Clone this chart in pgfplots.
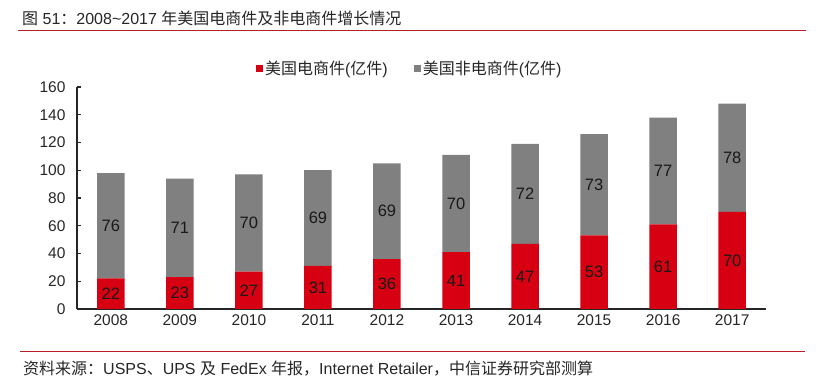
\documentclass[border=0pt]{standalone}
\usepackage{pgfplots}
\pgfplotsset{compat=1.18}
\usepackage{fontspec}
\setmainfont{Liberation Sans}
\newfontfamily\cjk{Noto Sans CJK SC}
\definecolor{ecred}{RGB}{214,0,18}
\definecolor{ecgray}{RGB}{128,128,128}
\definecolor{rulered}{RGB}{185,30,36}
\begin{document}
\begin{tikzpicture}[x=1pt,y=1pt]
\path[use as bounding box] (0,0) rectangle (828,390);
\node[anchor=west, inner sep=0pt, text=black!85] at (22,372) {\fontsize{16}{18}\selectfont{\cjk 图} 51{\cjk ：}2008\textasciitilde 2017 {\cjk 年美国电商件及非电商件增长情况}};
\draw[rulered, line width=1pt] (18,359) -- (806,359);
\draw[rulered, line width=1pt] (20,38) -- (805,38);
\node[anchor=west, inner sep=0pt, text=black!85] at (23,21) {\fontsize{16}{18}\selectfont{\cjk 资料来源：}USPS{\cjk 、}UPS {\cjk 及} FedEx {\cjk 年报，}Internet Retailer{\cjk ，中信证券研究部测算}};
\begin{axis}[
  at={(77pt,81pt)}, anchor=south west,
  scale only axis, width=689pt, height=222pt,
  xmin=-0.49, xmax=9.49, ymin=0, ymax=160,
  ybar stacked, bar width=27.5pt,
  axis lines*=left,
  axis line style={line width=1.3pt, black!85},
  xtick={0,1,2,3,4,5,6,7,8,9},
  xticklabels={2008,2009,2010,2011,2012,2013,2014,2015,2016,2017},
  x tick style={draw=none},
  ytick={0,20,40,60,80,100,120,140,160},
  tick align=inside, major tick length=4pt,
  y tick style={line width=1.2pt, black!85},
  /pgf/number format/assume math mode=true,
  ticklabel style={font=\fontsize{15.5}{18}\selectfont, text=black!85},
  yticklabel style={xshift=-8pt},
  xticklabel style={yshift=-2pt},
  legend columns=2,
  legend style={at={(0.483,1.085)}, anchor=center, draw=none, fill=none,
    font=\fontsize{16}{18}\selectfont, text=black!85,
    /tikz/every even column/.append style={column sep=24pt},
    nodes={inner sep=2pt}},
  legend image code/.code={\fill[#1] (0pt,-3.5pt) rectangle (7pt,3.5pt);},
]
\addplot[fill=ecred, draw=none] coordinates {(0,22) (1,23) (2,27) (3,31) (4,36) (5,41) (6,47) (7,53) (8,61) (9,70)};
\addlegendentry{{\cjk 美国电商件}({\cjk 亿件})}
\addplot[fill=ecgray, draw=none] coordinates {(0,76) (1,71) (2,70) (3,69) (4,69) (5,70) (6,72) (7,73) (8,77) (9,78)};
\addlegendentry{{\cjk 美国非电商件}({\cjk 亿件})}
\end{axis}
\begin{axis}[
  at={(77pt,81pt)}, anchor=south west,
  scale only axis, width=689pt, height=222pt,
  xmin=-0.49, xmax=9.49, ymin=0, ymax=160,
  hide axis,
]
\addplot[draw=none, mark=none, nodes near coords, point meta=explicit symbolic,
  every node near coord/.append style={anchor=center, font=\fontsize{16.5}{18}\selectfont, text=black!90}]
  coordinates {(0,11) [22] (1,11.5) [23] (2,13.5) [27] (3,15.5) [31] (4,18) [36] (5,20.5) [41] (6,23.5) [47] (7,26.5) [53] (8,30.5) [61] (9,35) [70]
               (0,60) [76] (1,58.5) [71] (2,62) [70] (3,65.5) [69] (4,70.5) [69] (5,76) [70] (6,83) [72] (7,89.5) [73] (8,99.5) [77] (9,109) [78]};
\end{axis}
\end{tikzpicture}
\end{document}
